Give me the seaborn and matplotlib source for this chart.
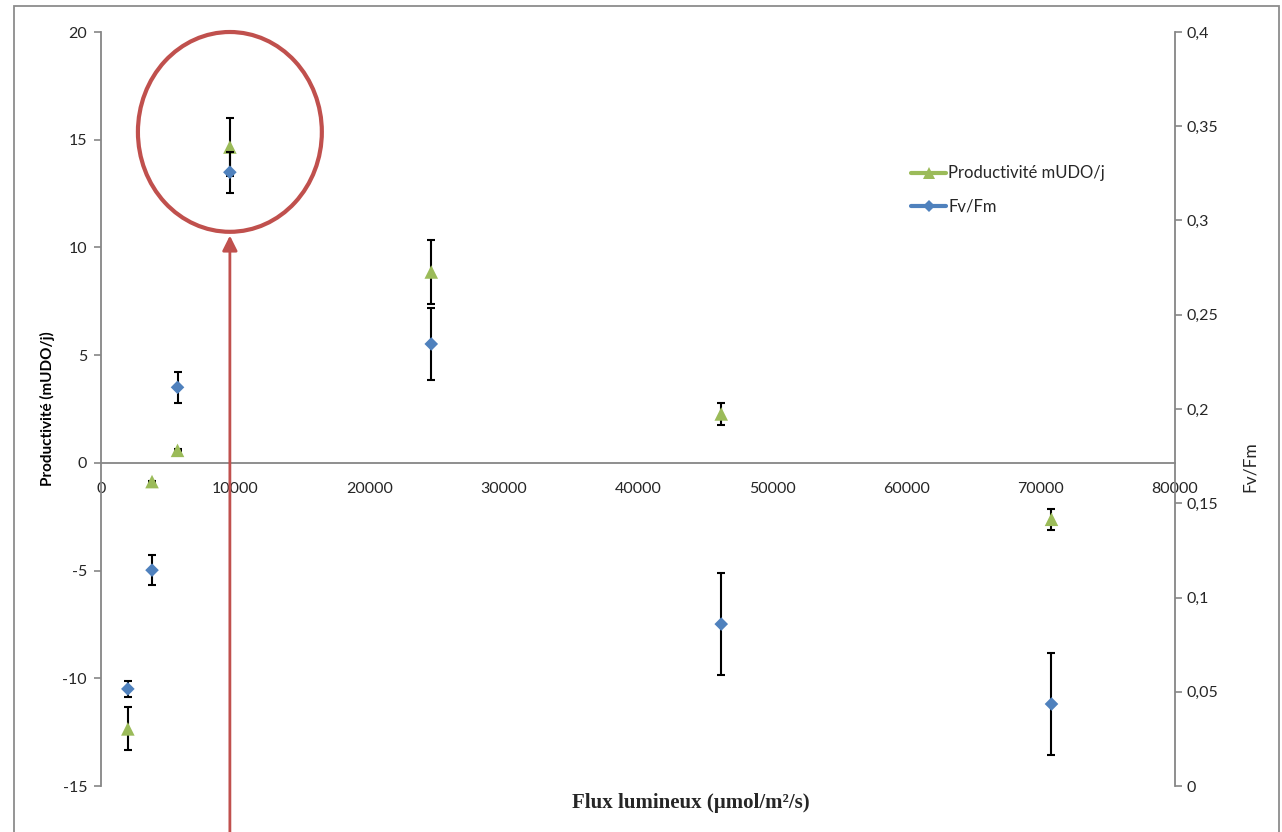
import matplotlib
matplotlib.use("Agg")
import matplotlib.pyplot as plt
from matplotlib.patches import Ellipse, Rectangle
from matplotlib.lines import Line2D
from matplotlib.ticker import FuncFormatter, MultipleLocator
import seaborn as sns

# Light flux (µmol/m²/s)
flux = [2000, 3800, 5700, 9600, 24600, 46200, 70800]

# Productivity (mUDO/j) with standard deviation
productivite = [-12.35, -0.87, 0.58, 14.66, 8.86, 2.27, -2.62]
productivite_err = [1.0, 0.05, 0.05, 1.33, 1.5, 0.5, 0.5]

# Photosynthetic efficiency Fv/Fm with standard deviation
fvfm = [0.0515, 0.1145, 0.2115, 0.3256, 0.2345, 0.0859, 0.0435]
fvfm_err = [0.0041, 0.0081, 0.0081, 0.0109, 0.0191, 0.0269, 0.0272]

x_ticks = [0, 10000, 20000, 30000, 40000, 50000, 60000, 70000, 80000]
series_names = ["Productivité mUDO/j", "Fv/Fm"]

GREEN = "#9BBB59"
BLUE = "#4F81BD"
RED = "#C0504D"
SPINE = "#868686"
TXT = "#262626"

sns.set_style("white")
plt.rcParams["font.family"] = ["Lato", "DejaVu Sans"]
plt.rcParams["axes.unicode_minus"] = False

W, H = 1282, 832
fig = plt.figure(figsize=(W / 100, H / 100), dpi=100)
ax = fig.add_axes([101 / W, 1 - 786 / H, (1175 - 101) / W, (786 - 32) / H])
ax2 = ax.twinx()

# outer chart frame
fig.patches.append(Rectangle((14 / W, -0.01), (1279 - 14) / W, (H - 6) / H + 0.01,
                             transform=fig.transFigure, fill=False,
                             edgecolor="#8C8C8C", linewidth=1.3, zorder=0))

# error bars (behind the markers)
ax.errorbar(flux, productivite, yerr=productivite_err, fmt="none", ecolor="black",
            elinewidth=1.5, capsize=3, capthick=1.5, zorder=2)
ax2.errorbar(flux, fvfm, yerr=fvfm_err, fmt="none", ecolor="black",
             elinewidth=1.5, capsize=3, capthick=1.5, zorder=2)

sns.scatterplot(x=flux, y=productivite, ax=ax, marker="^", s=95, color=GREEN,
                edgecolor="none", linewidth=0, zorder=3)
sns.scatterplot(x=flux, y=fvfm, ax=ax2, marker="D", s=48, color=BLUE,
                edgecolor="none", linewidth=0, zorder=3)

ax.set_xlim(0, 80000)
ax.set_ylim(-15, 20)
ax2.set_ylim(0, 0.4)

ax.set_xticks(x_ticks)
ax.xaxis.set_major_formatter(FuncFormatter(lambda v, p: f"{int(v)}"))
ax.yaxis.set_major_locator(MultipleLocator(5))
ax.yaxis.set_major_formatter(FuncFormatter(lambda v, p: f"{int(round(v))}"))
ax2.yaxis.set_major_locator(MultipleLocator(0.05))
ax2.yaxis.set_major_formatter(FuncFormatter(
    lambda v, p: "0" if abs(v) < 1e-9 else f"{v:.2f}".rstrip("0").replace(".", ",")))

for a in (ax, ax2):
    for s in a.spines.values():
        s.set_color(SPINE)
        s.set_linewidth(1.3)
    a.spines["top"].set_visible(False)
    a.grid(False)

ax.spines["right"].set_visible(False)
ax.spines["bottom"].set_position(("data", 0))
ax2.spines["left"].set_visible(False)
ax2.spines["bottom"].set_visible(False)

ax.tick_params(axis="x", direction="out", length=5, width=1.2, color=SPINE,
               labelsize=11.5, labelcolor=TXT, pad=9)
ax.tick_params(axis="y", direction="out", length=5, width=1.2, color=SPINE,
               labelsize=11.5, labelcolor=TXT, pad=5)
ax2.tick_params(axis="y", direction="out", length=5, width=1.2, color=SPINE,
                labelsize=11.5, labelcolor=TXT, pad=3)

ax.set_ylabel("Productivité (mUDO/j)", fontsize=11, fontweight="bold", color="black")
ax.yaxis.set_label_coords(-46 / 1074, 0.50)
ax2.set_ylabel("Fv/Fm", fontsize=12.5, color=TXT)
ax2.yaxis.set_label_coords(1.0625, 0.423)
fig.text(691 / W, 1 - 803 / H, "Flux lumineux (µmol/m²/s)", ha="center", va="center",
         family=["Liberation Serif", "DejaVu Serif"], fontweight="bold", fontsize=15)

# legend
handles = [
    Line2D([0], [0], color=GREEN, lw=3, marker="^", markersize=9, markeredgewidth=0),
    Line2D([0], [0], color=BLUE, lw=3, marker="D", markersize=6, markeredgewidth=0),
]
ax2.legend(handles, series_names, loc="upper left",
           bbox_to_anchor=(903 / W, 1 - 157 / H), bbox_transform=fig.transFigure,
           frameon=False, fontsize=12, handlelength=2.1, handletextpad=0.1,
           labelspacing=1.05, borderpad=0, numpoints=1)

# highlight of the optimum point
ax2.add_patch(Ellipse((9600, 0.347), 13700, 0.106, fill=False, edgecolor=RED,
                      linewidth=3, zorder=5, clip_on=False))
ax2.annotate("", xy=(9600, 0.292), xytext=(9600, -0.03),
             xycoords="data", textcoords="data", annotation_clip=False,
             arrowprops=dict(arrowstyle="-|>,head_length=0.9,head_width=0.45",
                             color=RED, lw=2, shrinkA=0, shrinkB=0))

fig.savefig("out.png", dpi=100)
